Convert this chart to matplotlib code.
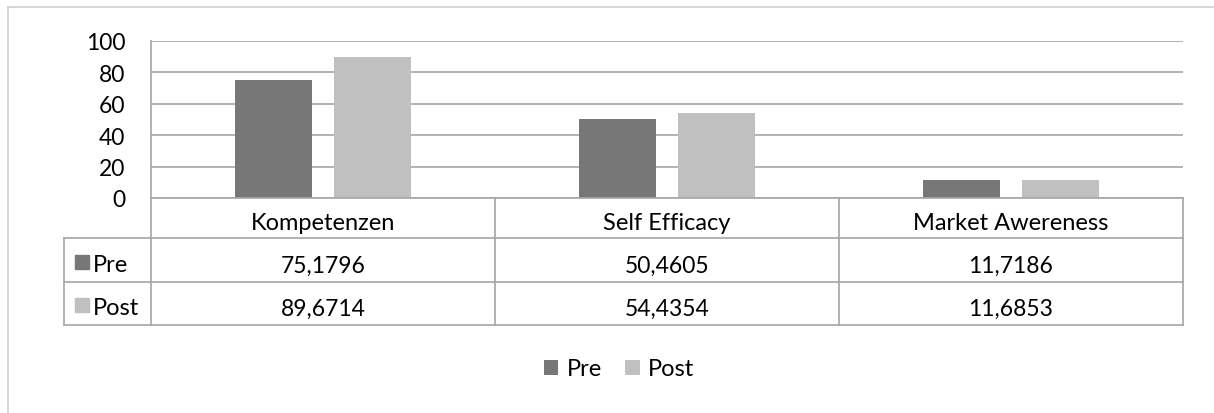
import matplotlib
matplotlib.use("Agg")
import matplotlib.pyplot as plt
import matplotlib.transforms as mtransforms
from matplotlib.patches import Rectangle

categories = ["Kompetenzen", "Self Efficacy", "Market Awereness"]
series = ["Pre", "Post"]
pre = [75.1796, 50.4605, 11.7186]
post = [89.6714, 54.4354, 11.6853]
colors = ["#777777", "#c0c0c0"]

plt.rcParams["font.family"] = ["Lato", "DejaVu Sans"]

W, H = 1214, 414
fig = plt.figure(figsize=(W / 100, H / 100), dpi=100)


def fx(x):
    return x / W


def fy(y):
    # y in pixels from the top
    return 1 - y / H


grid_col = "#a6a6a6"
line_col = "#a6a6a6"
fs = 16.5

# plot area
ax = fig.add_axes([fx(151), fy(199), fx(1183) - fx(151), fy(42) - fy(199)])
x = list(range(len(categories)))
bw = 0.224
off = 0.143
ax.bar([i - off for i in x], pre, bw, color=colors[0], label=series[0], zorder=3)
ax.bar([i + off for i in x], post, bw, color=colors[1], label=series[1], zorder=3)
ax.set_xlim(-0.5, len(categories) - 0.5)
ax.set_ylim(0, 100)
ax.set_yticks([0, 20, 40, 60, 80, 100])
ax.set_xticks([])
ax.yaxis.grid(True, color=grid_col, linewidth=1.2, zorder=0)
for s in ["top", "right", "bottom"]:
    ax.spines[s].set_visible(False)
ax.spines["left"].set_color(line_col)
ax.spines["left"].set_linewidth(1.2)
ax.tick_params(axis="y", length=0, labelsize=fs, pad=18.5, labelcolor="black")
for t in ax.get_yticklabels():
    t.set_verticalalignment("center_baseline")

# data table below the axis
tr = mtransforms.blended_transform_factory(ax.transData, fig.transFigure)
lw = 1.2
x0 = -0.5
# vertical lines of category columns
for xv in [x0 + k for k in range(len(categories) + 1)]:
    fig.add_artist(plt.Line2D([xv, xv], [fy(199), fy(326)], transform=tr,
                              color=line_col, lw=lw))
# horizontal lines
for yv in [199, 239, 283, 326]:
    start = 151 if yv == 199 else 64
    fig.add_artist(plt.Line2D([fx(start), fx(1183)], [fy(yv), fy(yv)],
                              transform=fig.transFigure, color=line_col, lw=lw))
fig.add_artist(plt.Line2D([fx(64), fx(64)], [fy(239), fy(326)],
                          transform=fig.transFigure, color=line_col, lw=lw))

# header row
for i, c in enumerate(categories):
    fig.text(i, fy(222), c, transform=tr, ha="center", va="center_baseline",
             fontsize=17)

# series rows
rows = [pre, post]
row_y = [264, 307]
for r, (name, vals) in enumerate(zip(series, rows)):
    fig.add_artist(Rectangle((fx(75), fy(row_y[r] + 6)), fx(14), 14 / H,
                             transform=fig.transFigure, color=colors[r]))
    fig.text(fx(93), fy(row_y[r]), name, ha="left", va="center_baseline",
             fontsize=17)
    for i, v in enumerate(vals):
        fig.text(i, fy(row_y[r]), f"{v:.4f}".replace(".", ","), transform=tr,
                 ha="center", va="center_baseline", fontsize=fs)

# outer chart frame (partly cropped)
frame_col = "#d0d0d0"
fig.add_artist(plt.Line2D([fx(8), 1], [fy(8), fy(8)], transform=fig.transFigure,
                          color=frame_col, lw=1.2))
fig.add_artist(plt.Line2D([fx(8), fx(8)], [fy(8), 0], transform=fig.transFigure,
                          color=frame_col, lw=1.2))

# legend
fig.legend(loc="center", bbox_to_anchor=(fx(619), fy(370)), ncol=2, frameon=False,
           fontsize=17, handlelength=0.62, handleheight=0.62, handletextpad=0.35,
           columnspacing=1.0)

fig.savefig("out.png", dpi=100)
